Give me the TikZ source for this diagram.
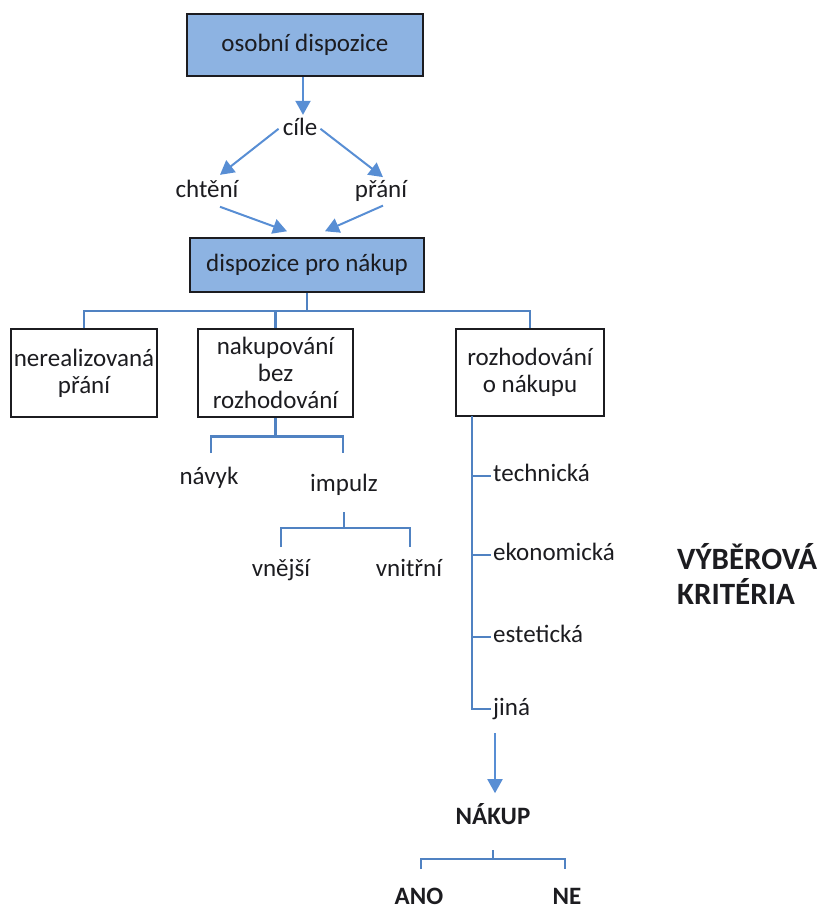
\documentclass[tikz,border=0pt]{standalone}
\usepackage{fontspec}
\setmainfont{Carlito}
\usetikzlibrary{arrows.meta}

\definecolor{boxblue}{RGB}{141,179,226}
\definecolor{treeblue}{RGB}{80,130,194}
\definecolor{flowblue}{RGB}{88,142,212}
\definecolor{ink}{RGB}{28,28,32}

\begin{document}
\begin{tikzpicture}[x=1pt,y=-1pt,
  every node/.style={text=ink, inner sep=0pt, font=\fontsize{25}{27}\selectfont},
  bluebox/.style={draw=ink, line width=1.5pt, fill=boxblue},
  whitebox/.style={draw=ink, line width=1.5pt, fill=white, align=center},
  lbl/.style={anchor=mid},
  crit/.style={anchor=mid west},
  heavy/.style={font=\fontsize{25}{27}\selectfont\bfseries},
  tree/.style={draw=treeblue, line width=2.6pt},
  flow/.style={draw=flowblue, line width=2pt, -{Triangle[width=15pt,length=14pt]}}
]
\useasboundingbox (0,0) rectangle (821,910);

% top part: dispositions
\node[bluebox, minimum width=236pt, minimum height=62pt] (osobni) at (305,45) {osobní dispozice};
\node[lbl] (cile)   at (300,133) {cíle};
\node[lbl] (chteni) at (207,195) {chtění};
\node[lbl] (prani)  at (381,195) {přání};
\node[bluebox, minimum width=234pt, minimum height=54pt] (dispo) at (307,265) {dispozice pro nákup};

\draw[flow] (osobni.south -| 303,0) -- ([yshift=3pt]cile.north -| 303,0);
\draw[flow] ([shift={(-4pt,-2pt)}]cile.west) -- ([shift={(13pt,5pt)}]chteni.north);
\draw[flow] ([shift={(3pt,-2pt)}]cile.east) -- ([shift={(2pt,3pt)}]prani.north);
\draw[flow] ([shift={(13pt,-9pt)}]chteni.south) -- ([shift={(-20pt,6pt)}]dispo.north);
\draw[flow] ([shift={(2pt,-4pt)}]prani.south) -- ([shift={(18pt,6pt)}]dispo.north);

% three kinds of behaviour
\node[whitebox, minimum width=146pt, minimum height=88pt] (nerea) at (84,373)
  {nerealizovaná\\přání};
\node[whitebox, minimum width=155pt, minimum height=88pt] (bez) at (275.5,373)
  {nakupování\\bez\\rozhodování};
\node[whitebox, minimum width=148pt, minimum height=87pt] (rozh) at (530,372.5)
  {rozhodování\\o nákupu};

\coordinate (busY) at (0,311);
\draw[tree] (dispo.south) -- (dispo.south |- busY);
\draw[tree] (nerea.north) -- (nerea.north |- busY) -- (rozh.north |- busY) -- (rozh.north);
\draw[tree] (bez.north) -- (bez.north |- busY);

% buying without decision
\node[lbl] (navyk)  at (209,482) {návyk};
\node[lbl] (impulz) at (344,489) {impulz};
\node[lbl] (vnejsi) at (281,574) {vnější};
\node[lbl] (vnitrni) at (409,574) {vnitřní};

\draw[tree] (bez.south) -- ++(0,19) coordinate (j2);
\coordinate (navykTop)  at (211,453);
\coordinate (impulzTop) at (343,453);
\draw[tree] (navykTop) |- (j2) -| (impulzTop);

\coordinate (impBot) at (344,512);
\coordinate (j3) at (344,528);
\coordinate (vnejsiTop)  at (281,547);
\coordinate (vnitrniTop) at (410,547);
\draw[tree] (impBot) -- (j3);
\draw[tree] (vnejsiTop) |- (j3) -| (vnitrniTop);

% selection criteria
\node[crit] (tech) at (493,479) {technická};
\node[crit] (ekon) at (493,558) {ekonomická};
\node[crit] (este) at (493,640) {estetická};
\node[crit] (jina) at (493,713) {jiná};

\coordinate (spine) at (472,416);
\draw[tree] (spine) |- ([shift={(-2pt,4pt)}]jina.mid west);
\draw[tree] ([shift={(-21pt,3pt)}]tech.mid west) -- ([shift={(-2pt,3pt)}]tech.mid west);
\draw[tree] ([shift={(-21pt,3pt)}]ekon.mid west) -- ([shift={(-2pt,3pt)}]ekon.mid west);
\draw[tree] ([shift={(-21pt,3pt)}]este.mid west) -- ([shift={(-2pt,3pt)}]este.mid west);

\node[anchor=base west, align=left, font=\fontsize{31}{35}\selectfont\bfseries]
  (kriteria) at (677,604) {VÝBĚROVÁ\\KRITÉRIA};

% purchase outcome
\node[lbl, heavy] (nakup) at (493,822) {NÁKUP};
\coordinate (nk) at (495,733);
\draw[flow] (nk) -- ([yshift=10pt]nakup.north -| nk);

\node[lbl, heavy] (ano) at (419,902) {ANO};
\node[lbl, heavy] (ne)  at (567,902) {NE};

\coordinate (j4) at (493,859);
\coordinate (anoTop) at (421,869);
\coordinate (neTop)  at (565,869);
\draw[tree] ([yshift=9pt]j4) -- (j4);
\draw[tree] (anoTop) |- (j4) -| (neTop);
\end{tikzpicture}
\end{document}
